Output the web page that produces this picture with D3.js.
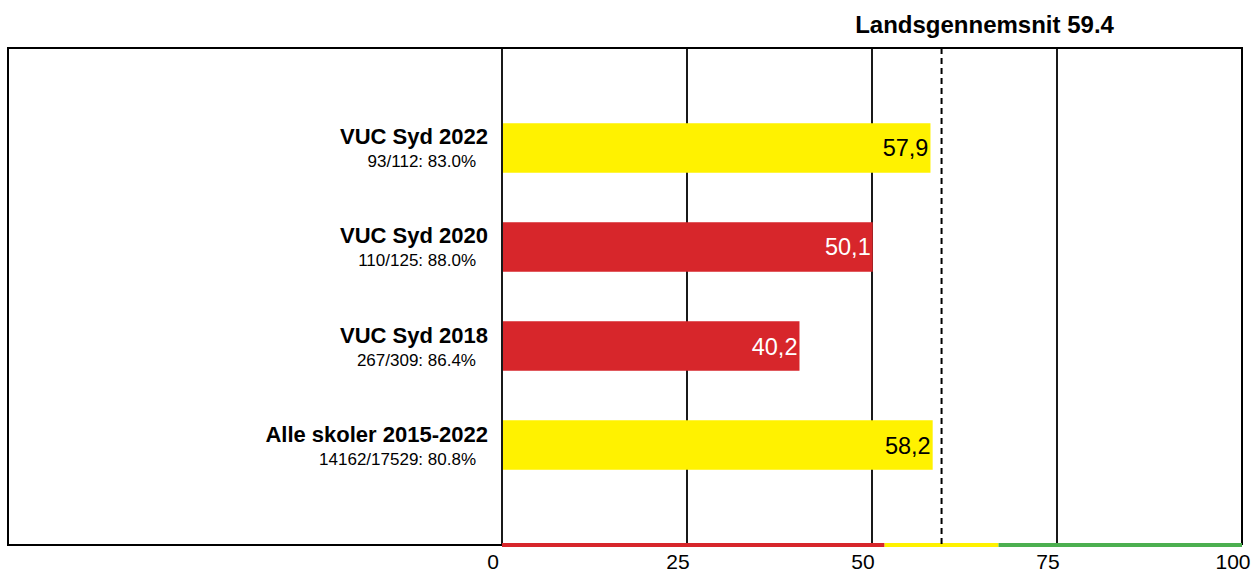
<!DOCTYPE html>
<html>
<head>
<meta charset="utf-8">
<script src="https://cdn.jsdelivr.net/npm/d3@7"></script>
<style>
  body { margin: 0; background: #fff; }
  text { font-family: "Liberation Sans", Arial, sans-serif; }
</style>
</head>
<body>
<script>
// bar chart: score per school/year, with national average marker
categories = ['VUC Syd 2022', 'VUC Syd 2020', 'VUC Syd 2018', 'Alle skoler 2015-2022'];
subtitles = ['93/112: 83.0%', '110/125: 88.0%', '267/309: 86.4%', '14162/17529: 80.8%'];
values = [57.9, 50.1, 40.2, 58.2];
valueLabels = ['57,9', '50,1', '40,2', '58,2'];
barColors = ['#fff200', '#d7262b', '#d7262b', '#fff200'];
ticks = [0, 25, 50, 75, 100];
avg = 59.4;
zones = [[0, 51.7, '#d7262b'], [51.7, 67.1, '#fff200'], [67.1, 100, '#4caf50']];

width = 1253, height = 574;
frameLeft = 8, frameTop = 48, frameBottom = 545;

svg = d3.select('body').append('svg')
  .attr('width', width)
  .attr('height', height)
  .style('display', 'block');

xScale = d3.scaleLinear()
  .domain([0, 100])
  .range([502, 1242]);
yScale = d3.scaleBand()
  .domain(categories)
  .range([frameTop, frameBottom])
  .paddingInner(0.5)
  .paddingOuter(0.76);
mid = d => yScale(d) + yScale.bandwidth() / 2;

// frame
svg.append('path')
  .attr('d', 'M' + xScale(0) + ',' + frameBottom + 'H' + frameLeft + 'V' + frameTop + 'H' + xScale(100) + 'V' + frameBottom)
  .attr('fill', 'none')
  .attr('stroke', 'black')
  .attr('stroke-width', 2);

// grid lines
svg.selectAll('line.grid')
  .data(ticks)
  .enter().append('line')
  .attr('class', 'grid')
  .attr('x1', d => xScale(d)).attr('x2', d => xScale(d))
  .attr('y1', frameTop).attr('y2', frameBottom)
  .attr('stroke', 'black')
  .attr('stroke-width', 1.8);

// bars
svg.selectAll('rect.bar')
  .data(values)
  .enter().append('rect')
  .attr('class', 'bar')
  .attr('x', xScale(0) + 1)
  .attr('y', (d, i) => yScale(categories[i]))
  .attr('width', d => xScale(d) - xScale(0) - 1)
  .attr('height', yScale.bandwidth())
  .attr('fill', (d, i) => barColors[i]);

svg.selectAll('text.val')
  .data(values)
  .enter().append('text')
  .attr('class', 'val')
  .attr('x', d => xScale(d) - 2)
  .attr('y', (d, i) => mid(categories[i]) + 8.5)
  .attr('text-anchor', 'end')
  .attr('font-size', 23.5)
  .attr('fill', (d, i) => barColors[i] == '#d7262b' ? 'white' : 'black')
  .text((d, i) => valueLabels[i]);

// category labels
svg.selectAll('text.cat')
  .data(categories)
  .enter().append('text')
  .attr('class', 'cat')
  .attr('x', 488)
  .attr('y', d => mid(d) - 3.5)
  .attr('text-anchor', 'end')
  .attr('font-size', 22)
  .attr('font-weight', 'bold')
  .text(d => d);
svg.selectAll('text.sub')
  .data(subtitles)
  .enter().append('text')
  .attr('class', 'sub')
  .attr('x', 476)
  .attr('y', (d, i) => mid(categories[i]) + 19.5)
  .attr('text-anchor', 'end')
  .attr('font-size', 17)
  .text(d => d);

// colored zones along the bottom
svg.selectAll('line.zone')
  .data(zones)
  .enter().append('line')
  .attr('class', 'zone')
  .attr('x1', d => xScale(d[0])).attr('x2', d => xScale(d[1]))
  .attr('y1', frameBottom).attr('y2', frameBottom)
  .attr('stroke', d => d[2])
  .attr('stroke-width', 4);

// national average
svg.append('line')
  .attr('x1', xScale(avg)).attr('x2', xScale(avg))
  .attr('y1', frameTop).attr('y2', frameBottom)
  .attr('stroke', 'black')
  .attr('stroke-width', 2)
  .attr('stroke-dasharray', '6,4');
svg.append('text')
  .attr('x', xScale(avg) + 43)
  .attr('y', 33)
  .attr('text-anchor', 'middle')
  .attr('font-size', 24)
  .attr('font-weight', 'bold')
  .text('Landsgennemsnit ' + avg);

// tick labels
svg.selectAll('text.tick')
  .data(ticks)
  .enter().append('text')
  .attr('class', 'tick')
  .attr('x', d => xScale(d) - 9)
  .attr('y', 569)
  .attr('text-anchor', 'middle')
  .attr('font-size', 21)
  .text(d => d);
</script>
</body>
</html>
